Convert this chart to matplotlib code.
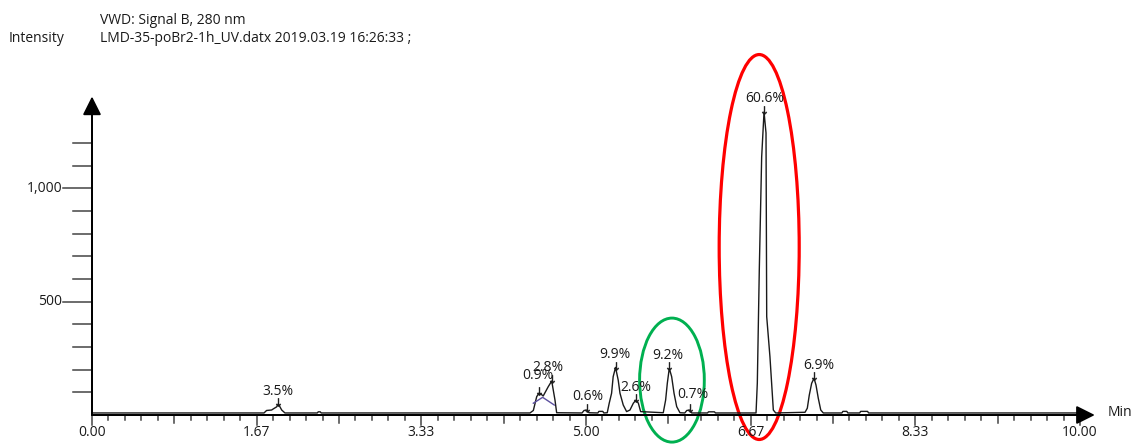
import matplotlib.pyplot as plt
from matplotlib.patches import Ellipse

plt.rcParams['font.family'] = ['Open Sans', 'DejaVu Sans']

# chromatogram trace (time in min, intensity)
trace_t = [0.00, 1.741, 1.767, 1.818, 1.835, 1.869, 1.886, 1.920, 1.953,
           2.28, 2.29, 2.31, 2.32,
           4.433, 4.467, 4.501, 4.527, 4.567, 4.618, 4.653, 4.686, 4.703,
           4.96, 4.98, 5.01, 5.03, 5.12, 5.13, 5.17, 5.18,
           5.215, 5.235, 5.259, 5.275, 5.299, 5.326, 5.344, 5.377, 5.411,
           5.445, 5.479, 5.506, 5.530, 5.553,
           5.782, 5.806, 5.823, 5.843, 5.867, 5.891, 5.918, 5.951,
           6.00, 6.02, 6.05, 6.07, 6.23, 6.24, 6.30, 6.31,
           6.721, 6.734, 6.754, 6.778, 6.802, 6.822, 6.829, 6.862, 6.896, 6.92,
           7.217, 7.240, 7.260, 7.284, 7.308, 7.328, 7.351, 7.376, 7.402,
           7.59, 7.60, 7.64, 7.65, 7.77, 7.78, 7.85, 7.86, 10.0]
trace_i = [9, 9, 20, 22, 27, 36, 49, 22, 9,
           9, 14, 14, 9,
           9, 20, 81, 98, 84, 125, 150, 66, 10,
           9, 20, 22, 10, 9, 16, 16, 9,
           10, 52, 96, 169, 210, 154, 96, 44, 15,
           22, 52, 66, 52, 15,
           10, 66, 140, 206, 169, 96, 37, 10,
           9, 20, 22, 9, 9, 14, 14, 9,
           9, 141, 640, 1138, 1337, 1244, 434, 256, 22, 9,
           12, 30, 88, 140, 162, 132, 74, 22, 9,
           9, 16, 16, 9, 9, 16, 16, 9, 9]

# integration baseline of the overlapping pair
split_t = [4.467, 4.561, 4.679]
split_i = [52, 78, 44]

# peak area labels
peak_t = [1.886, 4.527, 4.653, 5.01, 5.299, 5.506, 5.843, 6.05, 6.802, 7.308]
peak_i = [49, 98, 150, 22, 210, 66, 206, 22, 1337, 162]
peak_labels = ['3.5%', '0.9%', '2.8%', '0.6%', '9.9%', '2.6%', '9.2%', '0.7%', '60.6%', '6.9%']
label_dx = [0, -1, -4, 1, -1, 0, -1, 3, 1, 5]
label_dy = [2, 7, 3, 3, 3, 2, 3, 5, 3, 3]

x_ticks = [0.00, 1.667, 3.333, 5.00, 6.667, 8.333, 10.00]
x_tick_labels = ['0.00', '1.67', '3.33', '5.00', '6.67', '8.33', '10.00']
y_ticks = [500, 1000]
y_tick_labels = ['500', '1,000']

fig = plt.figure(figsize=(11.34, 4.44), dpi=100)
ax = fig.add_axes([0, 0, 1, 1])
ax.set_xlim(-0.9312, 10.5466)
ax.set_ylim(-127.9, 1830.6)
ax.axis('off')

ink = '#1a1a1a'
axis_c = '#444444'

# axes with arrow heads
ax.annotate('', xy=(10.15, 0), xytext=(0, 0),
            arrowprops=dict(arrowstyle='-|>', color='black', lw=1.4,
                            mutation_scale=28, shrinkA=0, shrinkB=0))
ax.annotate('', xy=(0, 1405), xytext=(0, 0),
            arrowprops=dict(arrowstyle='-|>', color='black', lw=1.4,
                            mutation_scale=28, shrinkA=0, shrinkB=0))
ax.plot([0, 10.0], [0, 0], color=axis_c, lw=1.4)
ax.plot([0, 0], [0, 1330], color=axis_c, lw=1.4)

# x ticks: minor every 1/6 min, medium halfway, major at labels
for k in range(61):
    t = k / 6
    if k % 10 == 0:
        ln = 44
    elif k % 5 == 0:
        ln = 36
    else:
        ln = 22
    ax.plot([t, t], [0, -ln], color=axis_c, lw=1.1)
for t, s in zip(x_ticks, x_tick_labels):
    ax.text(t, -79, s, ha='center', va='center', fontsize=10, color=ink)

# y ticks
for v in range(100, 1300, 100):
    ln = 0.29 if v in y_ticks else 0.19
    ax.plot([-ln, 0], [v, v], color=axis_c, lw=1.1)
for v, s in zip(y_ticks, y_tick_labels):
    ax.text(-0.30, v, s, ha='right', va='center', fontsize=10, color=ink)

# signal
ax.plot(trace_t, trace_i, color=ink, lw=1.0)
ax.plot(split_t, split_i, color='#5b4f9e', lw=1.0)

# peak markers and area labels
for t, h, s, dx, dy in zip(peak_t, peak_i, peak_labels, label_dx, label_dy):
    ax.plot(t, h + 8, marker=r'$\downarrow$', ms=6, color=ink, mew=0.3)
    ax.annotate(s, (t, h), xytext=(dx * 0.72, dy * 0.72 + 2), textcoords='offset points',
                ha='center', va='bottom', fontsize=10, color=ink)

# highlighted peaks
ax.add_patch(Ellipse((6.753, 741), 0.81, 1698, fill=False, ec='#ff0000', lw=2.3, clip_on=False))
ax.add_patch(Ellipse((5.87, 154), 0.655, 547, fill=False, ec='#00b050', lw=2.1, clip_on=False))

fig.text(9 / 1134, 1 - 38 / 444, 'Intensity', fontsize=10, color=ink, va='center')
fig.text(100 / 1134, 1 - 21 / 444, 'VWD: Signal B, 280 nm', fontsize=10, color=ink, va='center')
fig.text(100 / 1134, 1 - 38 / 444, 'LMD-35-poBr2-1h_UV.datx 2019.03.19 16:26:33 ;',
         fontsize=10, color=ink, va='center')
ax.text(10.28, 12, 'Min', fontsize=10, color=ink, ha='left', va='center')

fig.savefig('out.png', dpi=100)
